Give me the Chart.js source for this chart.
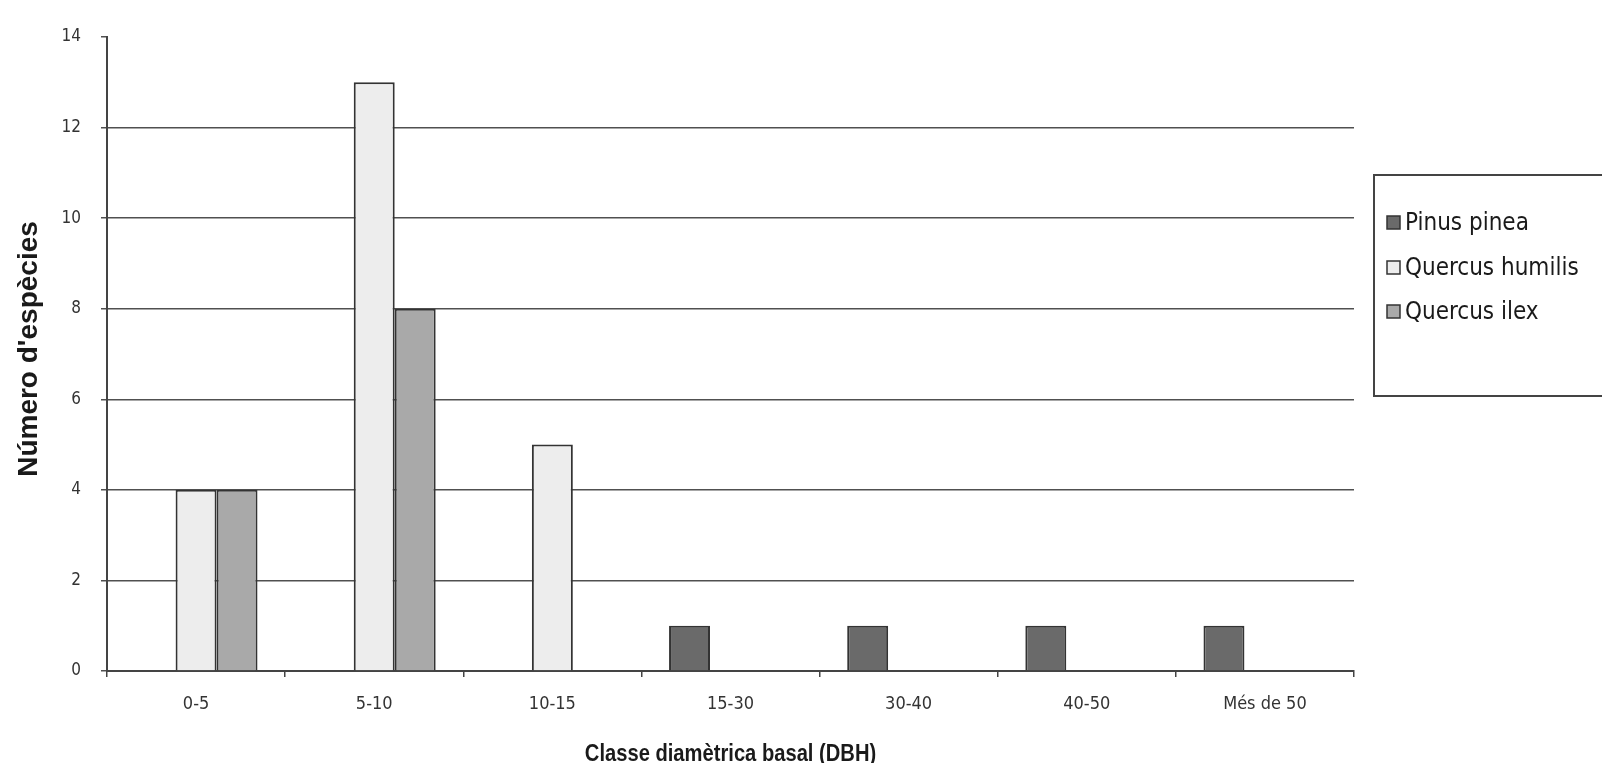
<!DOCTYPE html>
<html>
<head>
<meta charset="utf-8">
<script src="https://cdn.jsdelivr.net/npm/chart.js@4/dist/chart.umd.min.js"></script>
<style>
  html, body { margin: 0; padding: 0; background: #ffffff; }
  #wrap { width: 1602px; height: 763px; }
</style>
</head>
<body>
<div id="wrap"><canvas id="chart" width="1602" height="763"></canvas></div>
<script>
// Diameter classes (DBH) and number of trees per species
const classes = ['0-5', '5-10', '10-15', '15-30', '30-40', '40-50', 'Més de 50'];
const pinusPinea = [0, 0, 0, 1, 1, 1, 1];
const quercusHumilis = [4, 13, 5, 0, 0, 0, 0];
const quercusIlex = [4, 8, 0, 0, 0, 0, 0];
const yTicks = [0, 2, 4, 6, 8, 10, 12, 14];

const xTitle = 'Classe diamètrica basal (DBH)';
const yTitle = "Número d'espècies";

const narrow = '"Liberation Sans Narrow", "DejaVu Sans Condensed", "Liberation Sans", sans-serif';
const bold = '"Liberation Sans", Arial, sans-serif';

// Axis titles and boxed legend on the right
const decorations = {
  id: 'decorations',
  afterDraw(chart) {
    const ctx = chart.ctx;
    const area = chart.chartArea;
    ctx.save();
    ctx.fillStyle = '#1a1a1a';
    ctx.font = 'bold 24px ' + bold;
    ctx.textAlign = 'center';
    ctx.textBaseline = 'alphabetic';
    // slightly condensed bold title under the category axis
    ctx.translate((area.left + area.right) / 2, 761);
    ctx.scale(0.84, 1);
    ctx.fillText(xTitle, 0, 0);
    ctx.restore();

    ctx.save();
    ctx.fillStyle = '#1a1a1a';
    ctx.textAlign = 'center';
    ctx.translate(37, 349);
    ctx.rotate(-Math.PI / 2);
    ctx.font = 'bold 28px ' + bold;
    ctx.fillText(yTitle, 0, 0);
    ctx.restore();

    // legend frame
    ctx.save();
    ctx.strokeStyle = '#444';
    ctx.lineWidth = 2;
    ctx.strokeRect(1374, 175, 260, 221);
    const rows = [223, 268, 312];
    ctx.font = '24px ' + narrow;
    ctx.textAlign = 'left';
    ctx.textBaseline = 'middle';
    chart.data.datasets.forEach((ds, i) => {
      const y = rows[i];
      ctx.fillStyle = ds.backgroundColor;
      ctx.fillRect(1387, y - 7, 13, 13);
      ctx.strokeStyle = '#333';
      ctx.lineWidth = 1.5;
      ctx.strokeRect(1387, y - 7, 13, 13);
      ctx.fillStyle = '#1a1a1a';
      ctx.fillText(ds.label, 1405, y + 1);
    });
    ctx.restore();
  }
};

new Chart(document.getElementById('chart'), {
  type: 'bar',
  data: {
    labels: classes,
    datasets: [
      { label: 'Pinus pinea', data: pinusPinea, backgroundColor: '#6a6a6a' },
      { label: 'Quercus humilis', data: quercusHumilis, backgroundColor: '#ededed' },
      { label: 'Quercus ilex', data: quercusIlex, backgroundColor: '#a9a9a9' }
    ]
  },
  options: {
    responsive: false,
    animation: false,
    devicePixelRatio: 1,
    layout: { padding: { left: 1, right: 248, top: 37, bottom: 0 } },
    datasets: {
      bar: {
        borderColor: '#333',
        borderWidth: 2,
        categoryPercentage: 0.69,
        barPercentage: 1
      }
    },
    plugins: {
      legend: { display: false },
      tooltip: { enabled: false }
    },
    scales: {
      x: {
        grid: {
          offset: true,
          drawOnChartArea: false,
          drawTicks: true,
          tickLength: 6,
          color: '#444',
          lineWidth: 1.5
        },
        border: { display: true, color: '#444', width: 2 },
        ticks: {
          color: '#333',
          font: { family: narrow, size: 18 },
          padding: 17,
          maxRotation: 0
        },
        afterFit(scale) { scale.height = 92; }
      },
      y: {
        min: 0,
        max: 14,
        afterBuildTicks(scale) { scale.ticks = yTicks.map(v => ({ value: v })); },
        grid: {
          color: (c) => (c.tick && (c.tick.value === 14 || c.tick.value === 0)) ? 'rgba(0,0,0,0)' : '#505050',
          lineWidth: 1.5,
          drawTicks: true,
          tickLength: 6,
          tickColor: '#505050'
        },
        border: { display: true, color: '#444', width: 2 },
        ticks: {
          color: '#333',
          font: { family: narrow, size: 17 },
          padding: 20
        },
        afterFit(scale) { scale.width = 106; }
      }
    }
  },
  plugins: [decorations]
});
</script>
</body>
</html>
